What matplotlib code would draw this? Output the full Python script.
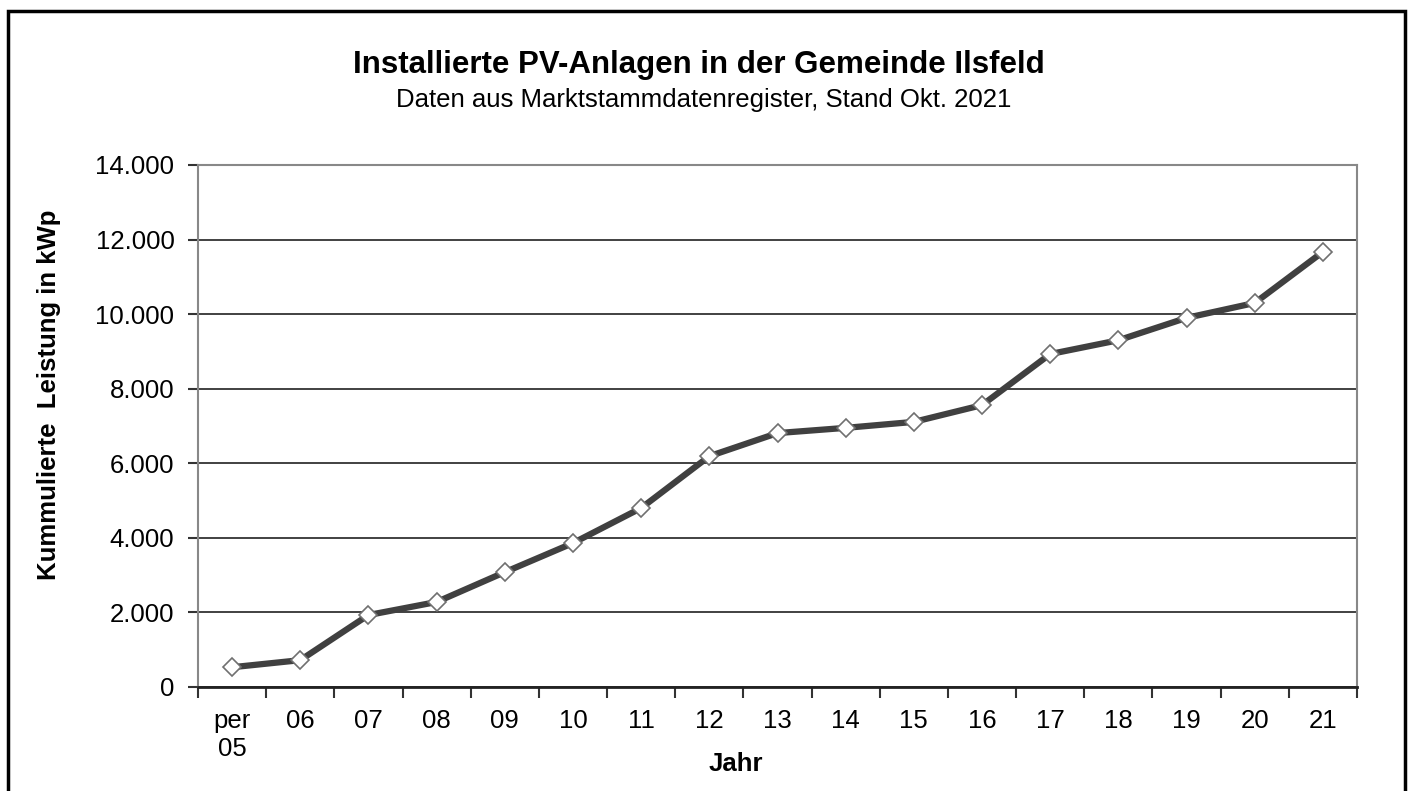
import matplotlib
matplotlib.use("Agg")
import matplotlib.pyplot as plt
from matplotlib.patches import Rectangle
from matplotlib.ticker import FixedLocator, FuncFormatter

plt.rcParams['font.family'] = ['Liberation Sans', 'DejaVu Sans']

# data
jahre = ['per\n05', '06', '07', '08', '09', '10', '11', '12', '13', '14',
         '15', '16', '17', '18', '19', '20', '21']
leistung = [530, 720, 1930, 2280, 3080, 3860, 4800, 6190, 6810, 6950,
            7110, 7560, 8930, 9300, 9900, 10300, 11670]
y_ticks = [0, 2000, 4000, 6000, 8000, 10000, 12000, 14000]

W, H = 1409, 791
fs = 18.5

fig = plt.figure(figsize=(W / 100, H / 100), dpi=100)
ax = fig.add_axes([198 / W, 1 - 687 / H, (1357 - 198) / W, (687 - 165) / H])

x = list(range(len(jahre)))
ax.plot(x, leistung, color='#404040', linewidth=4.5, solid_joinstyle='round',
        marker='D', markersize=9, markerfacecolor='white',
        markeredgecolor='#707070', markeredgewidth=1.2, zorder=3)

ax.set_xlim(-0.5, len(jahre) - 0.5)
ax.set_ylim(0, 14000)
ax.yaxis.set_major_locator(FixedLocator(y_ticks))
ax.yaxis.set_major_formatter(FuncFormatter(lambda v, p: f'{int(v):,}'.replace(',', '.')))
ax.grid(axis='y', color='#333333', linewidth=1.3)
ax.set_axisbelow(True)

# category labels centred, ticks on the boundaries
ax.set_xticks(x)
ax.set_xticklabels(jahre, fontsize=fs, linespacing=1.2, va='top')
ax.tick_params(axis='x', which='major', length=0, pad=16)
ax.set_xticks([i - 0.5 for i in range(len(jahre) + 1)], minor=True)
ax.tick_params(axis='x', which='minor', length=8, width=1.5, color='#333333', direction='out')
ax.tick_params(axis='y', length=7, width=1.5, color='#333333', labelsize=fs, pad=10)

for side in ['top', 'right', 'left']:
    ax.spines[side].set_color('#888888')
    ax.spines[side].set_linewidth(1.5)
ax.spines['bottom'].set_color('#222222')
ax.spines['bottom'].set_linewidth(2)

fig.text(736 / W, 1 - 764 / H, 'Jahr', ha='center', va='center',
         fontsize=fs, fontweight='bold')
fig.text(49 / W, 1 - 395 / H, 'Kummulierte  Leistung in kWp', ha='center', va='center',
         rotation=90, fontsize=fs, fontweight='bold')

fig.text(699 / W, 1 - 65 / H, 'Installierte PV-Anlagen in der Gemeinde Ilsfeld',
         ha='center', va='center', fontsize=22.5, fontweight='bold')
fig.text(704 / W, 1 - 100 / H, 'Daten aus Marktstammdatenregister, Stand Okt. 2021',
         ha='center', va='center', fontsize=18.5)

# outer frame
fig.patches.append(Rectangle((8 / W, -0.05), (1405 - 8) / W, 1.05 - 11 / H,
                             transform=fig.transFigure, fill=False,
                             edgecolor='black', linewidth=2.5))

fig.savefig('out.png', dpi=100)
